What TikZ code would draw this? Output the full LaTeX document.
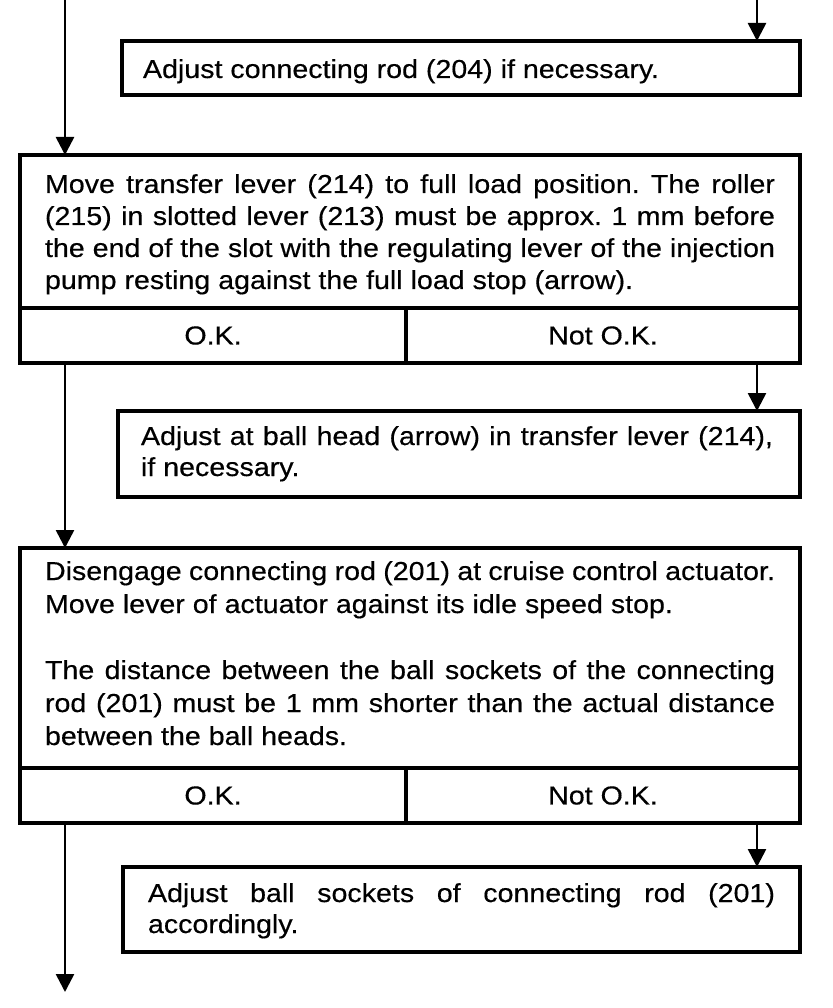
\documentclass[tikz,border=0pt]{standalone}
\usepackage{fontspec}
\newfontfamily\mf[FakeStretch=1.1,FakeBold=0.4]{Liberation Sans}
\usetikzlibrary{arrows.meta}
\begin{document}
\begin{tikzpicture}[x=1pt,y=-1pt,
  box/.style={draw, line width=3.4pt, rectangle, inner sep=0pt, outer sep=0pt, anchor=north west},
  cell/.style={box, font=\mf\fontsize{26}{32}\selectfont},
  txt/.style={anchor=north west, inner sep=0pt, outer sep=0pt, text width=#1, align=justify},
  arr/.style={line width=2.6pt, -{Triangle[width=18pt,length=18pt]}}]
\useasboundingbox (0,0) rectangle (832,1008);
% boxes
\node[box, minimum width=678pt, minimum height=54pt] (b1) at (122,41) {};
\node[box, minimum width=780pt, minimum height=153pt] (b2) at (20,155) {};
\node[cell, minimum width=386pt, minimum height=55pt] (ok2) at (20,308) {O.K.};
\node[cell, minimum width=394pt, minimum height=55pt] (nok2) at (406,308) {Not O.K.};
\node[box, minimum width=682pt, minimum height=86pt] (b3) at (118,411) {};
\node[box, minimum width=780pt, minimum height=220pt] (b4) at (20,548) {};
\node[cell, minimum width=386pt, minimum height=55pt] (ok4) at (20,768) {O.K.};
\node[cell, minimum width=394pt, minimum height=55pt] (nok4) at (406,768) {Not O.K.};
\node[box, minimum width=677pt, minimum height=85pt] (b5) at (123,867) {};
% texts
\node[txt=640pt, font=\mf\fontsize{26}{32}\selectfont\frenchspacing] (t1) at (143,55.6)
  {\strut Adjust connecting rod (204) if necessary.};
\node[txt=730pt, font=\mf\fontsize{26}{32}\selectfont\frenchspacing] (t2) at (45,170.6)
  {\strut Move transfer lever (214) to full load position. The roller\linebreak
   (215) in slotted lever (213) must be approx. 1 mm before\linebreak
   the end of the slot with the regulating lever of the injection\linebreak
   pump resting against the full load stop (arrow).};
\node[txt=632pt, font=\mf\fontsize{26}{31}\selectfont\frenchspacing] (t3) at (141,423.3)
  {\strut Adjust at ball head (arrow) in transfer lever (214),\linebreak
   if necessary.};
\node[txt=730pt, font=\mf\fontsize{26}{33}\selectfont\frenchspacing] (t4a) at (45,556.9)
  {\strut Disengage connecting rod (201) at cruise control actuator.\linebreak
   Move lever of actuator against its idle speed stop.};
\node[txt=730pt, font=\mf\fontsize{26}{33}\selectfont\frenchspacing] (t4b) at (45,655.9)
  {\strut The distance between the ball sockets of the connecting\linebreak
   rod (201) must be 1 mm shorter than the actual distance\linebreak
   between the ball heads.};
\node[txt=627pt, font=\mf\fontsize{26}{31}\selectfont\frenchspacing] (t5) at (148,880.3)
  {\strut Adjust ball sockets of connecting rod (201)\linebreak
   accordingly.};
% connectors
\coordinate (s1) at (65,0);
\coordinate (s2) at (757,0);
\coordinate (e1) at (65,992);
\draw[arr] (s2) -- (s2 |- b1.north);
\draw[arr] (s1) -- (s1 |- b2.north);
\draw[arr] (s2 |- nok2.south) -- (s2 |- b3.north);
\draw[arr] (s1 |- ok2.south) -- (s1 |- b4.north);
\draw[arr] (s2 |- nok4.south) -- (s2 |- b5.north);
\draw[arr] (s1 |- ok4.south) -- (e1);
\end{tikzpicture}
\end{document}
